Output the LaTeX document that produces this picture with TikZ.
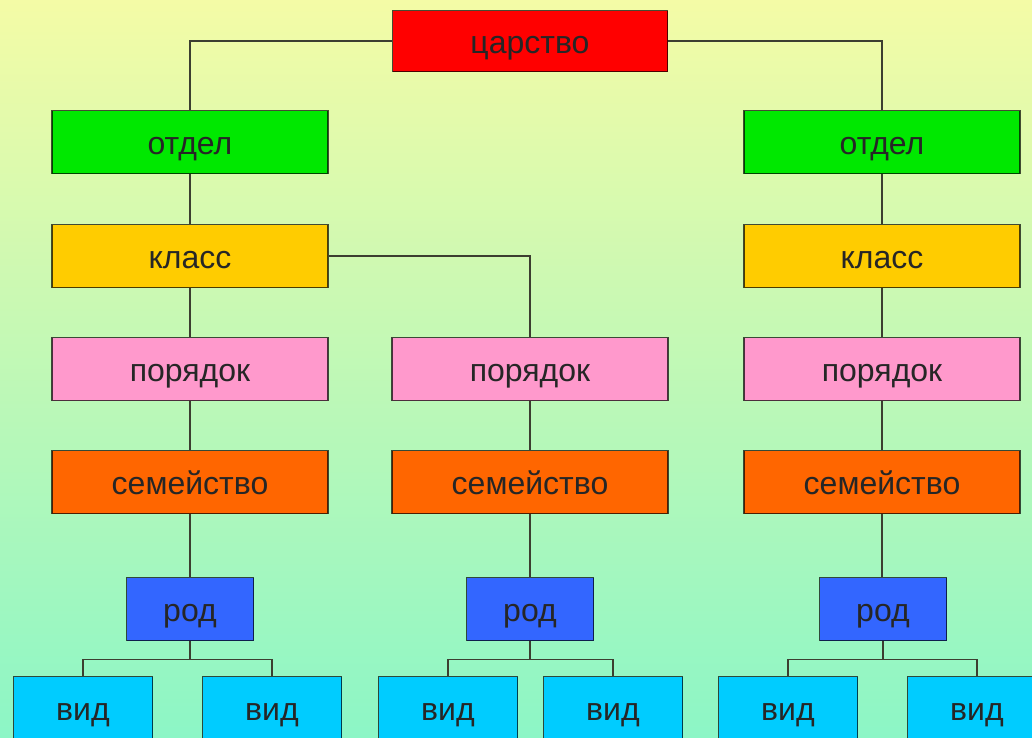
\documentclass[tikz,border=0pt]{standalone}
\usepackage{fontspec}
\setmainfont{Liberation Sans}

\definecolor{bgtop}{HTML}{F4FBA6}
\definecolor{bgbottom}{HTML}{8CF6C6}
\definecolor{linkcol}{HTML}{3C3E30}
\definecolor{tsarcol}{HTML}{FF0000}
\definecolor{otdelcol}{HTML}{00E800}
\definecolor{klasscol}{HTML}{FFCC00}
\definecolor{porcol}{HTML}{FF99CC}
\definecolor{semcol}{HTML}{FF6600}
\definecolor{rodcol}{HTML}{3366FF}
\definecolor{vidcol}{HTML}{00CCFF}

\tikzset{%
  rank/.style={
    rectangle,
    draw=black,
    draw opacity=0.7,
    line width=1.6pt,
    minimum width=276pt,
    minimum height=63pt,
    inner sep=0pt,
    text height=26pt,
    text depth=2pt,
    text=black!85,
    font=\fontsize{32}{36}\selectfont
  },
  rank small/.style={
    rank,
    minimum width=127pt
  },
  rank leaf/.style={
    rank,
    minimum width=139pt,
    fill=vidcol
  },
  link/.style={
    draw=linkcol,
    line width=1.6pt
  },
}

\begin{document}
\begin{tikzpicture}[x=1pt,y=-1pt]
\useasboundingbox (0,0) rectangle (1032,737);
\shade[top color=bgtop,bottom color=bgbottom] (0,0) rectangle (1032,737);

\node[rank,fill=tsarcol,minimum width=275pt,minimum height=61pt] (tsar) at (530,41) {царство};

\node[rank,fill=otdelcol] (otdel L) at (190,142) {отдел};
\node[rank,fill=otdelcol] (otdel R) at (882,142) {отдел};

\node[rank,fill=klasscol] (klass L) at (190,256) {класс};
\node[rank,fill=klasscol] (klass R) at (882,256) {класс};

\node[rank,fill=porcol] (por L) at (190,369) {порядок};
\node[rank,fill=porcol] (por M) at (530,369) {порядок};
\node[rank,fill=porcol] (por R) at (882,369) {порядок};

\node[rank,fill=semcol] (sem L) at (190,482) {семейство};
\node[rank,fill=semcol] (sem M) at (530,482) {семейство};
\node[rank,fill=semcol] (sem R) at (882,482) {семейство};

\node[rank small,fill=rodcol] (rod L) at (190,609) {род};
\node[rank small,fill=rodcol] (rod M) at (530,609) {род};
\node[rank small,fill=rodcol] (rod R) at (883,609) {род};

% species, two under each genus
\node[rank leaf] (vid L1) at (83,708) {вид};
\node[rank leaf] (vid L2) at (272,708) {вид};
\node[rank leaf] (vid M1) at (448,708) {вид};
\node[rank leaf] (vid M2) at (613,708) {вид};
\node[rank leaf] (vid R1) at (788,708) {вид};
\node[rank leaf] (vid R2) at (977,708) {вид};

% links
\draw[link] (tsar.west) -| (otdel L.north);
\draw[link] (tsar.east) -| (otdel R.north);
\draw[link] (otdel L) -- (klass L);
\draw[link] (otdel R) -- (klass R);
\draw[link] (klass L.east) -| (por M.north);
\draw[link] (klass L) -- (por L);
\draw[link] (klass R) -- (por R);
\draw[link] (por L) -- (sem L);
\draw[link] (por M) -- (sem M);
\draw[link] (por R) -- (sem R);
\draw[link] (sem L) -- (rod L);
\draw[link] (sem M) -- (rod M);
\draw[link] (sem R.south) -- (sem R.south |- rod R.north);
\draw[link] (rod L.south) -- ++(0,18) -| (vid L1.north);
\draw[link] (rod L.south) -- ++(0,18) -| (vid L2.north);
\draw[link] (rod M.south) -- ++(0,18) -| (vid M1.north);
\draw[link] (rod M.south) -- ++(0,18) -| (vid M2.north);
\draw[link] (rod R.south) -- ++(0,18) -| (vid R1.north);
\draw[link] (rod R.south) -- ++(0,18) -| (vid R2.north);
\end{tikzpicture}
\end{document}
